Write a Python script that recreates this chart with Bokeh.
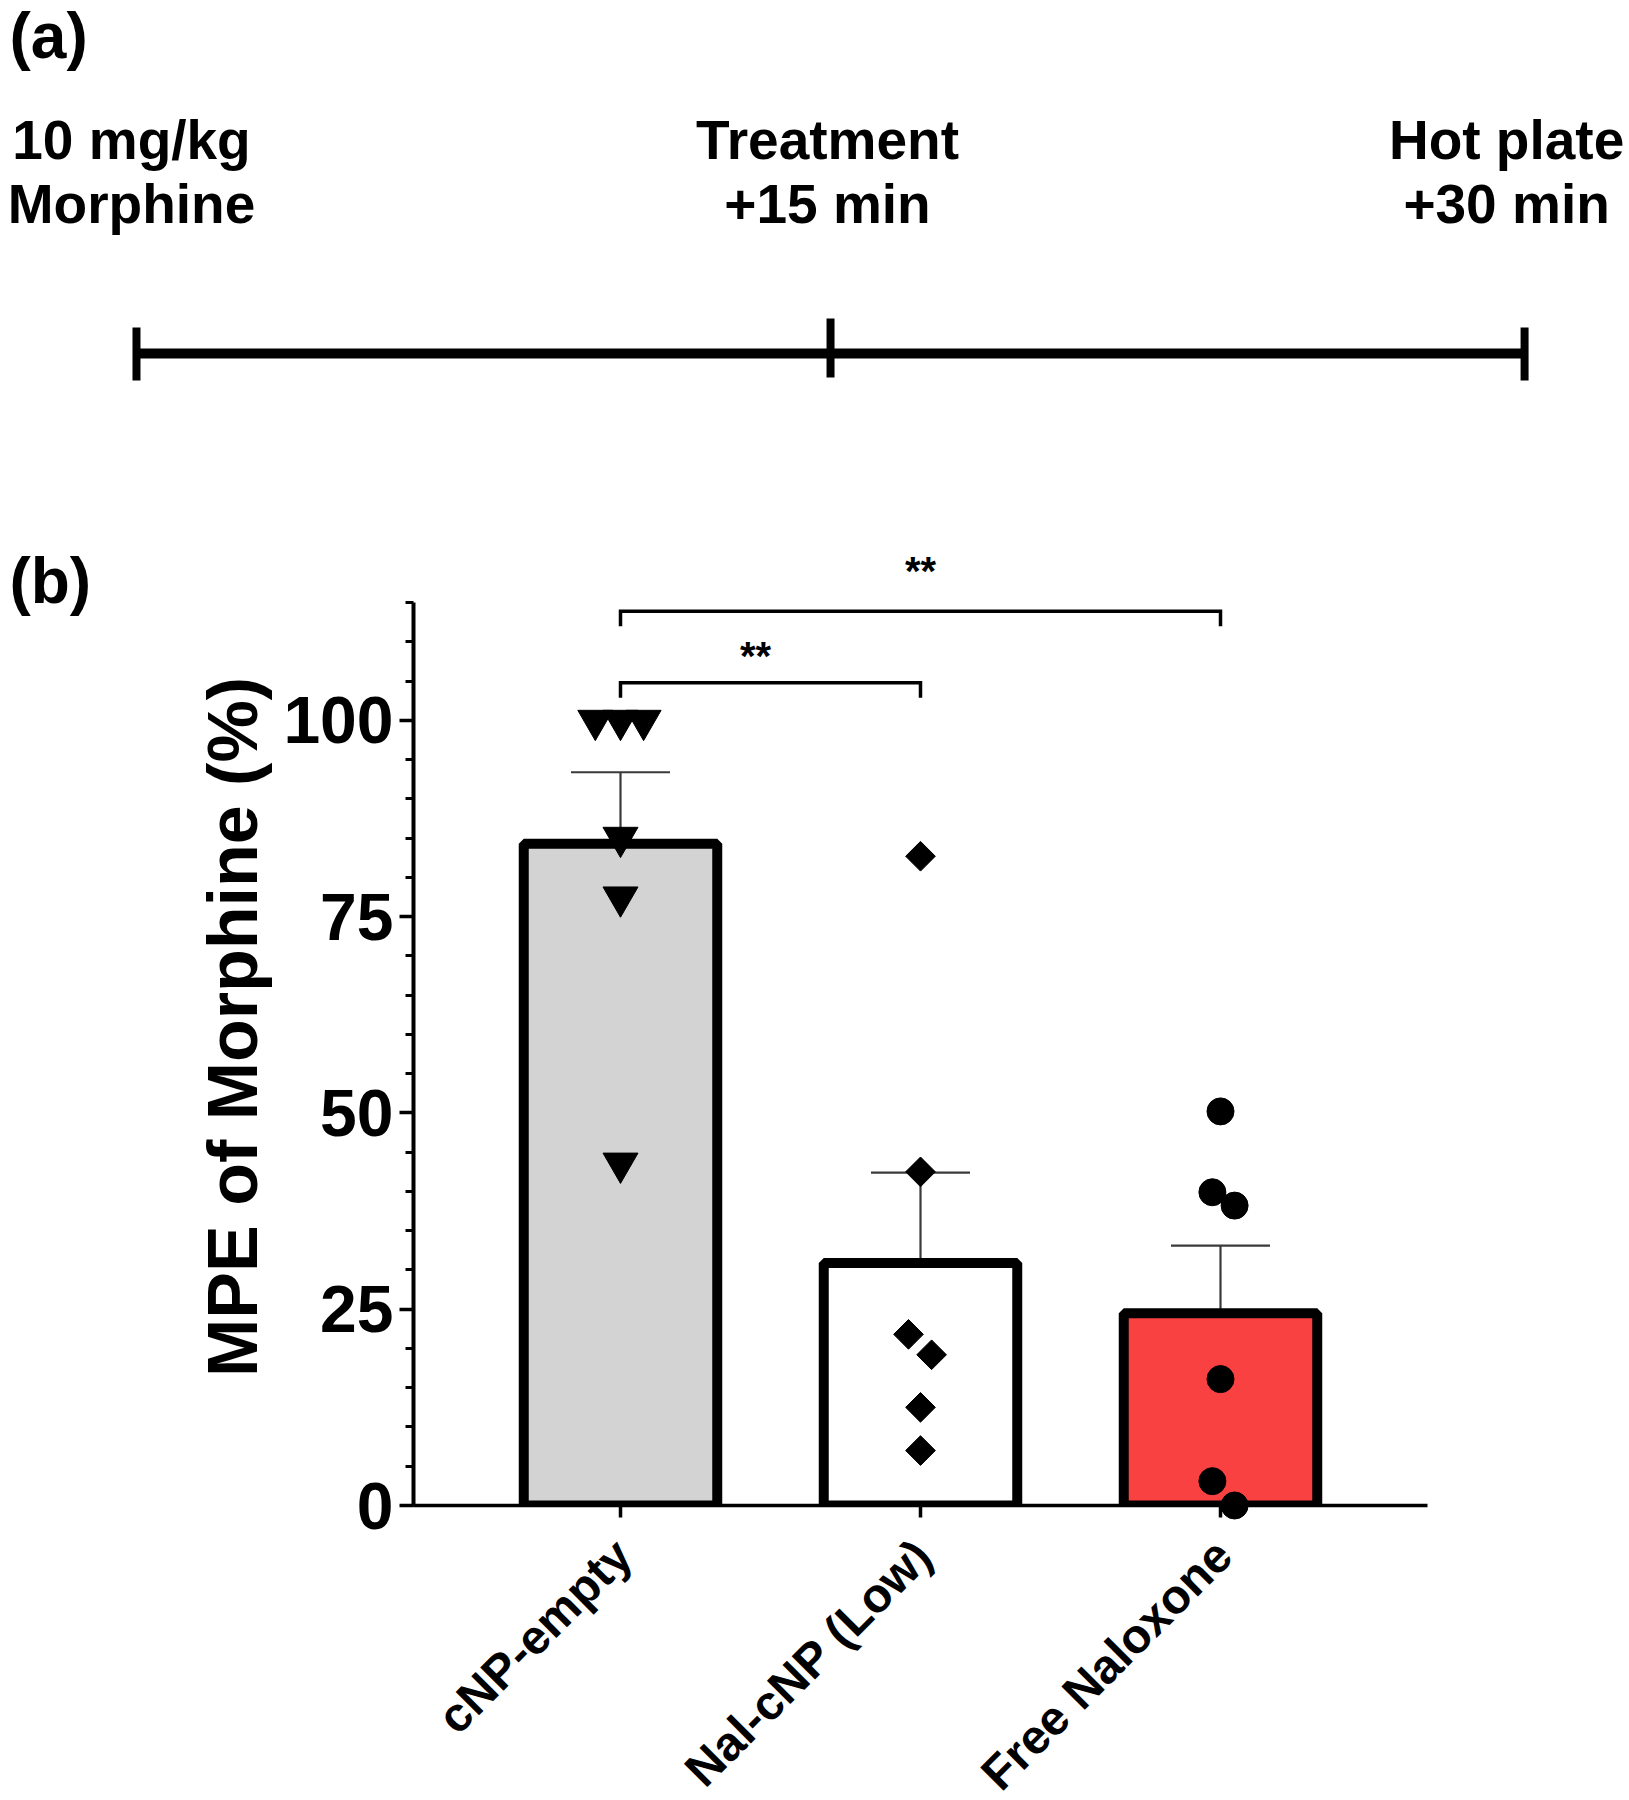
import numpy as np
from bokeh.plotting import figure
from bokeh.layouts import column
from bokeh.models import Range1d, FixedTicker
from bokeh.core.properties import value
from bokeh.embed import file_html
from bokeh.resources import INLINE

FONT = "Liberation Sans"

# ---------------- data: panel (a) timeline ----------------
timeline_minutes = [0, 15, 30]
timeline_line1 = ["10 mg/kg", "Treatment", "Hot plate"]
timeline_line2 = ["Morphine", "+15 min", "+30 min"]

# ---------------- data: panel (b) bar chart ----------------
categories = ["cNP-empty", "Nal-cNP (Low)", "Free Naloxone"]
bar_means = [84.3, 30.9, 24.5]
bar_sems = [9.1, 11.5, 8.6]
bar_colors = ["#D3D3D3", "#FFFFFF", "#F94141"]

pts_cnp_empty = [100, 100, 100, 85.1, 77.5, 43.6]
pts_nal_cnp_low = [82.7, 42.5, 21.8, 19.2, 12.5, 7.0]
pts_free_naloxone = [50.2, 39.9, 38.2, 16.1, 3.1, 0.0]

y_major_ticks = [0, 25, 50, 75, 100]
y_minor_ticks = [0, 5, 10, 15, 20, 25, 30, 35, 40, 45, 50, 55, 60, 65, 70, 75,
                 80, 85, 90, 95, 100, 105, 110, 115]

sig_pairs = [(0, 1), (0, 2)]
sig_bracket_y = [104.8, 113.9]
sig_labels = ["**", "**"]
sig_label_x = [0.45, 1.0]
sig_label_y = [108.2, 119.0]

# point jitter (horizontal spread within a group, category units)
jit_cnp_empty = [-0.084, 0.0, 0.077, 0.0, 0.0, 0.0]
jit_nal_cnp_low = [0.0, 0.0, -0.04, 0.037, 0.0, 0.0]
jit_free_naloxone = [0.0, -0.027, 0.047, 0.0, -0.027, 0.047]

W = 1629
BL, BR = 413, 202   # shared left/right borders so both panels align

# ================= panel (a) =================
pa = figure(width=W, height=500, x_range=Range1d(5.987, 27.902),
            y_range=Range1d(500, 0), output_backend="svg",
            toolbar_location=None, x_axis_location=None, y_axis_location=None,
            min_border_left=BL, min_border_right=BR, min_border_top=0, min_border_bottom=0)
pa.grid.visible = False
pa.outline_line_color = None

tl_y = 353
pa.segment(x0=[timeline_minutes[0]], y0=[tl_y], x1=[timeline_minutes[-1]], y1=[tl_y],
           line_width=10, line_color="black", level="overlay")
pa.segment(x0=timeline_minutes, y0=[327, 318, 327], x1=timeline_minutes, y1=[380, 377, 380],
           line_width=8, line_color="black", level="overlay")

txt_kw = dict(text_align="center", text_baseline="alphabetic", text_font=value(FONT),
              text_font_style="bold", text_font_size="55px", text_color="black",
              level="overlay")
pa.text(x=timeline_minutes, y=[139] * 3, text=timeline_line1, x_offset=[-5, -3, -18], **txt_kw)
pa.text(x=timeline_minutes, y=[203] * 3, text=timeline_line2, x_offset=[-5, -3, -18], **txt_kw)

pa.text(x=[-2.745], y=[35], text=["(a)"], text_align="left", text_baseline="alphabetic",
        text_font=value(FONT), text_font_style="bold", text_font_size="64px",
        text_color="black", level="overlay")

# ================= panel (b) =================
pb = figure(width=W, height=1300, x_range=Range1d(-0.69, 2.69), y_range=Range1d(0, 121.9),
            output_backend="svg", toolbar_location=None,
            min_border_left=BL, min_border_right=BR, min_border_top=48, min_border_bottom=295)
pb.grid.visible = False
pb.outline_line_color = None

xs = np.arange(len(categories))
means = np.array(bar_means)
tops = means + np.array(bar_sems)

# error bars (upper only)
pb.segment(x0=xs, y0=means, x1=xs, y1=tops, line_width=2.2, line_color="#3a3a3a")
pb.segment(x0=xs - 0.165, y0=tops, x1=xs + 0.165, y1=tops, line_width=2.2, line_color="#3a3a3a")

# bars
pb.vbar(x=xs, top=means, bottom=0, width=0.645, fill_color=bar_colors,
        line_color="black", line_width=10)

# individual points
pb.scatter(x=xs[0] + np.array(jit_cnp_empty), y=pts_cnp_empty, marker="inverted_triangle",
           size=35, color="black", level="overlay")
pb.scatter(x=xs[1] + np.array(jit_nal_cnp_low), y=pts_nal_cnp_low, marker="square",
           angle=np.pi / 4, size=21, color="black", level="overlay")
pb.scatter(x=xs[2] + np.array(jit_free_naloxone), y=pts_free_naloxone, marker="circle",
           size=27, color="black", level="overlay")

# significance brackets
leg = 1.9
bx, by = [], []
for (a, b), yv in zip(sig_pairs, sig_bracket_y):
    bx.append([a, a, b, b])
    by.append([yv - leg, yv, yv, yv - leg])
pb.multi_line(xs=bx, ys=by, line_width=3.5, line_color="black", line_join="miter")
pb.text(x=sig_label_x, y=sig_label_y, text=sig_labels,
        text_align="center", text_baseline="alphabetic", text_font=value(FONT),
        text_font_style="bold", text_font_size="40px", text_color="black")

# category labels (rotated)
pb.text(x=xs, y=[0] * len(categories), text=categories, angle=np.pi / 4,
        text_align="right", text_baseline="middle", x_offset=3, y_offset=42,
        text_font=value(FONT), text_font_style="bold", text_font_size="48px",
        text_color="black", level="overlay")

# panel letter
pb.text(x=[-2.037], y=[117.8], text=["(b)"], text_align="left", text_baseline="alphabetic",
        text_font=value(FONT), text_font_style="bold", text_font_size="64px",
        text_color="black", level="overlay")

# y axis
ya = pb.yaxis[0]
ya.ticker = FixedTicker(ticks=y_major_ticks, minor_ticks=y_minor_ticks)
ya.bounds = (0, 115)
ya.axis_line_width = 4
ya.axis_line_color = "black"
ya.major_tick_line_width = 3.5
ya.minor_tick_line_width = 3
ya.major_tick_line_color = "black"
ya.minor_tick_line_color = "black"
ya.major_tick_out = 14
ya.major_tick_in = 0
ya.minor_tick_out = 8
ya.minor_tick_in = 0
ya.major_label_text_font = FONT
ya.major_label_text_font_style = "bold"
ya.major_label_text_font_size = "66px"
ya.major_label_text_color = "black"
ya.major_label_standoff = 6
ya.axis_label = "MPE of Morphine (%)"
ya.axis_label_text_font = FONT
ya.axis_label_text_font_style = "bold"
ya.axis_label_text_font_size = "70px"
ya.axis_label_text_color = "black"
ya.axis_label_standoff = 8

# x axis
xa = pb.xaxis[0]
xa.ticker = FixedTicker(ticks=list(xs))
xa.major_label_overrides = {0: "", 1: "", 2: ""}
xa.major_label_text_font_size = "0px"
xa.axis_line_width = 3.5
xa.axis_line_color = "black"
xa.major_tick_line_width = 3.5
xa.major_tick_line_color = "black"
xa.major_tick_out = 12
xa.major_tick_in = 0
xa.minor_tick_line_color = None

layout = column(pa, pb, spacing=0)
open("out.html", "w").write(file_html(layout, INLINE))
